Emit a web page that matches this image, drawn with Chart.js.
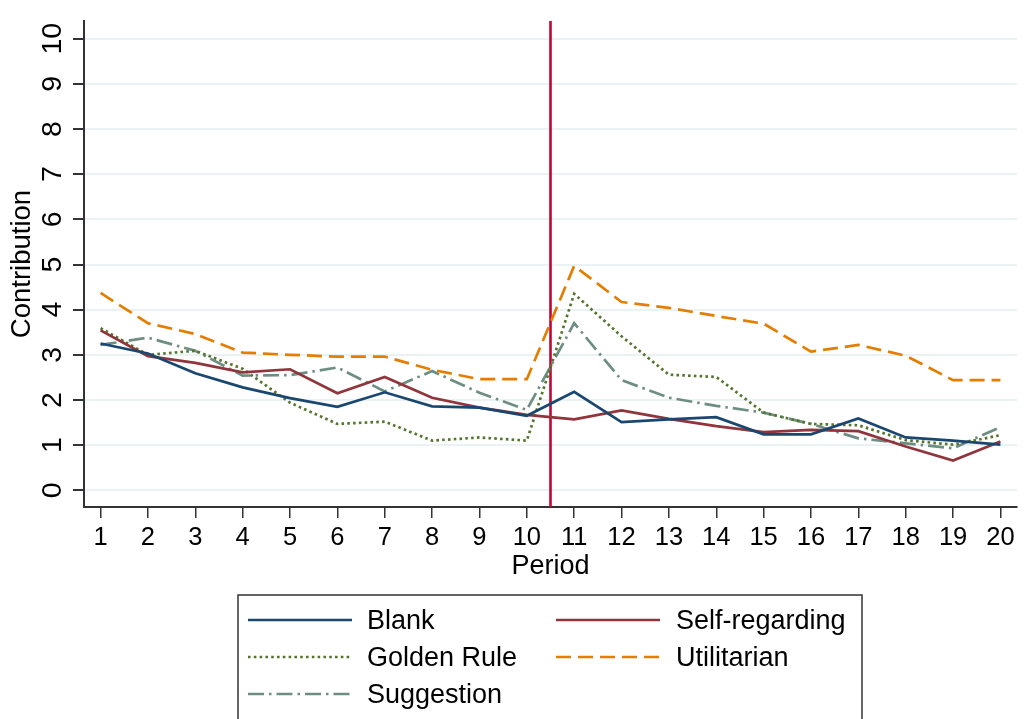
<!DOCTYPE html>
<html lang="en">
<head>
<meta charset="UTF-8">
<title>Contribution by Period</title>
<script src="https://cdn.jsdelivr.net/npm/chart.js"></script>
<style>
    html, body { margin: 0; padding: 0; background: #fff; }
    #wrap { width: 1025px; height: 719px; position: relative; }
</style>
</head>
<body>
<div id="wrap"><canvas id="chart"></canvas></div>
<script>
    // data
    const periods = [1, 2, 3, 4, 5, 6, 7, 8, 9, 10, 11, 12, 13, 14, 15, 16, 17, 18, 19, 20];
    const yTicks = [0, 1, 2, 3, 4, 5, 6, 7, 8, 9, 10];
    const blank = [3.25, 3.03, 2.59, 2.28, 2.04, 1.85, 2.17, 1.86, 1.83, 1.65, 2.18, 1.51, 1.57, 1.62, 1.24, 1.24, 1.59, 1.17, 1.10, 1.01];
    const selfRegarding = [3.54, 2.97, 2.82, 2.61, 2.68, 2.15, 2.51, 2.05, 1.83, 1.67, 1.57, 1.77, 1.58, 1.42, 1.29, 1.34, 1.31, 0.97, 0.66, 1.08];
    const goldenRule = [3.59, 3.00, 3.09, 2.69, 1.94, 1.47, 1.52, 1.10, 1.17, 1.10, 4.35, 3.41, 2.56, 2.51, 1.72, 1.47, 1.44, 1.11, 1.01, 1.22];
    const utilitarian = [4.37, 3.70, 3.46, 3.05, 3.00, 2.96, 2.96, 2.67, 2.46, 2.46, 4.97, 4.17, 4.04, 3.86, 3.69, 3.07, 3.22, 2.98, 2.44, 2.44];
    const suggestion = [3.22, 3.38, 3.09, 2.54, 2.55, 2.72, 2.19, 2.64, 2.16, 1.78, 3.70, 2.44, 2.05, 1.87, 1.72, 1.47, 1.15, 1.04, 0.93, 1.40];
    const treatmentAt = 10.5;
    const yMin = -0.37, yMax = 10.39;
    const xMin = 0.65, xMax = 20.35;

    const FONT = '"Liberation Sans", Arial, sans-serif';

    function pts(values) {
        return values.map((v, i) => ({ x: periods[i], y: v }));
    }

    function series(label, values, color, dash) {
        return {
            label: label,
            data: pts(values),
            borderColor: color,
            backgroundColor: color,
            borderWidth: 2.7,
            borderDash: dash,
            pointRadius: 0,
            tension: 0,
            fill: false
        };
    }

    const datasets = [
        series('Blank', blank, '#1a476f', []),
        series('Self-regarding', selfRegarding, '#90353b', []),
        series('Golden Rule', goldenRule, '#55752f', [2.6, 3.2]),
        series('Utilitarian', utilitarian, '#e37e00', [15, 7]),
        series('Suggestion', suggestion, '#6e8e84', [16, 5, 2.5, 5]),
        {
            label: 'treatment',
            data: [{ x: treatmentAt, y: yMin }, { x: treatmentAt, y: yMax }],
            borderColor: '#c10534',
            borderWidth: 2.6,
            pointRadius: 0,
            fill: false,
            clip: false
        }
    ];

    // legend drawn in a box below the plot, two columns like the original
    const boxLegend = {
        id: 'boxLegend',
        afterDraw(chart) {
            const ctx = chart.ctx;
            const box = { left: 238, top: 595, right: 862, bottom: 740 };
            const cols = [{ line: 248, text: 367 }, { line: 556, text: 676 }];
            const rows = [620, 657, 694];
            ctx.save();
            ctx.strokeStyle = '#333';
            ctx.lineWidth = 1.5;
            ctx.strokeRect(box.left, box.top, box.right - box.left, box.bottom - box.top);
            ctx.font = '27px ' + FONT;
            ctx.fillStyle = '#000';
            ctx.textBaseline = 'middle';
            for (let i = 0; i < 5; i++) {
                const ds = chart.data.datasets[i];
                const c = cols[i % 2];
                const y = rows[Math.floor(i / 2)];
                ctx.beginPath();
                ctx.setLineDash(ds.borderDash || []);
                ctx.strokeStyle = ds.borderColor;
                ctx.lineWidth = ds.borderWidth;
                ctx.moveTo(c.line, y);
                ctx.lineTo(c.line + 104, y);
                ctx.stroke();
                ctx.setLineDash([]);
                ctx.fillText(ds.label, c.text, y + 2);
            }
            ctx.restore();
        }
    };

    new Chart(document.getElementById('chart'), {
        type: 'line',
        data: { datasets: datasets },
        plugins: [boxLegend],
        options: {
            responsive: true,
            maintainAspectRatio: false,
            animation: false,
            layout: { padding: { left: 0, top: 8, right: 8, bottom: 132 } },
            plugins: { legend: { display: false }, tooltip: { enabled: false } },
            scales: {
                x: {
                    type: 'linear',
                    min: xMin,
                    max: xMax,
                    afterBuildTicks: (s) => { s.ticks = periods.map(v => ({ value: v })); },
                    afterFit: (s) => { s.height = 80; },
                    grid: { drawOnChartArea: false, drawTicks: true, tickLength: 11, tickColor: '#333', lineWidth: 1.5 },
                    border: { color: '#333', width: 2 },
                    ticks: { color: '#000', font: { family: FONT, size: 25.5 }, padding: 5, maxRotation: 0, autoSkip: false },
                    title: { display: true, text: 'Period', color: '#000', font: { family: FONT, size: 27 }, padding: { top: 0, bottom: 4 } }
                },
                y: {
                    type: 'linear',
                    min: yMin,
                    max: yMax,
                    afterBuildTicks: (s) => { s.ticks = yTicks.map(v => ({ value: v })); },
                    afterFit: (s) => { s.width = 84; },
                    grid: { color: '#eaf2f3', lineWidth: 2, tickLength: 11, tickColor: '#333' },
                    border: { color: '#333', width: 2 },
                    ticks: { color: '#000', font: { family: FONT, size: 28.5 }, padding: 4, minRotation: 90, maxRotation: 90, crossAlign: 'center' },
                    title: { display: true, text: 'Contribution', color: '#000', font: { family: FONT, size: 27.5 }, padding: { top: 6, bottom: 0 } }
                }
            }
        }
    });
</script>
</body>
</html>
